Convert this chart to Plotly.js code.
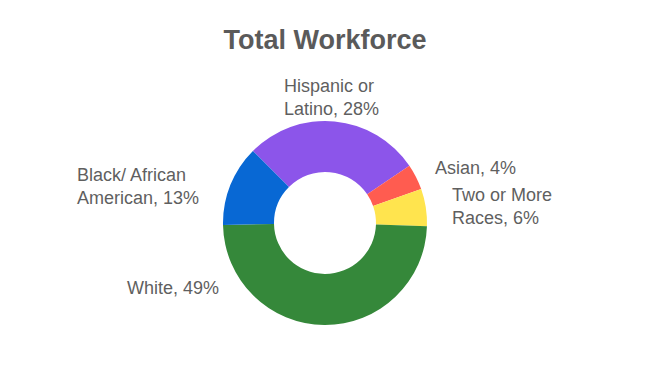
<!DOCTYPE html>
<html>
<head>
<meta charset="utf-8">
<script src="https://cdn.plot.ly/plotly-3.0.1.min.js"></script>
<style>html,body{margin:0;padding:0;background:#fff;}#chart{width:650px;height:384px;}</style>
</head>
<body>
<div id="chart"></div>
<script>
// Data (share of total workforce, %)
const categories = ["Hispanic or Latino", "Asian", "Two or More Races", "White", "Black/ African American"];
const shares = [28.0, 4.1, 5.9, 49.2, 12.8];
const labelLines = ["Hispanic or<br>Latino", "Asian", "Two or More<br>Races", "White", "Black/ African<br>American"];
const chartTitle = "Total Workforce";

// Styles / layout (not data)
const colors = ["#8c55ea", "#ff5c50", "#ffe44e", "#35883a", "#0868d4"];
const W = 650, H = 384;
const cx = 325, cy = 223, R = 102;
// label block anchors in pixels: [x, y(center), xanchor]
const labelPos = [
  [282, 98, "left"],
  [433, 168, "left"],
  [450, 206, "left"],
  [125, 288, "left"],
  [75, 186, "left"]
];

const total = shares.reduce((a, b) => a + b, 0);
const annotations = shares.map((v, i) => ({
  xref: "paper", yref: "paper",
  x: labelPos[i][0] / W, y: 1 - labelPos[i][1] / H,
  xanchor: labelPos[i][2], yanchor: "middle", align: "left",
  showarrow: false,
  text: labelLines[i] + ", " + Math.round(v / total * 100) + "%",
  font: {family: "Liberation Sans, Arial, sans-serif", size: 18, color: "#5f5f5f"}
}));

const trace = {
  type: "pie",
  labels: categories,
  values: shares,
  hole: 0.5,
  sort: false,
  direction: "clockwise",
  rotation: -45,
  textinfo: "none",
  hoverinfo: "label+percent",
  marker: {colors: colors, line: {width: 0}},
  domain: {
    x: [(cx - R) / W, (cx + R) / W],
    y: [(H - cy - R) / H, (H - cy + R) / H]
  },
  showlegend: false
};

const layout = {
  width: W, height: H,
  margin: {l: 0, r: 0, t: 0, b: 0},
  paper_bgcolor: "#ffffff",
  showlegend: false,
  title: {
    text: "<b>" + chartTitle + "</b>",
    x: 0.5, xanchor: "center",
    y: 1 - 40 / H, yanchor: "middle", yref: "container",
    font: {family: "Liberation Sans, Arial, sans-serif", size: 27, color: "#5a5a5a"}
  },
  annotations: annotations
};

Plotly.newPlot("chart", [trace], layout, {displayModeBar: false, staticPlot: true});
</script>
</body>
</html>
